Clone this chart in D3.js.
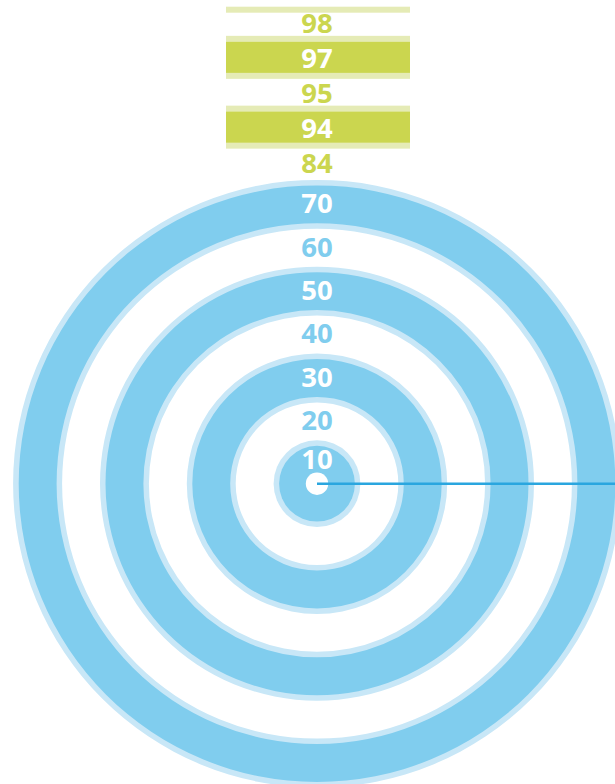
<!DOCTYPE html>
<html>
<head>
<meta charset="utf-8">
<script src="https://cdn.jsdelivr.net/npm/d3@7/dist/d3.min.js"></script>
<style>
  html, body { margin: 0; padding: 0; background: #ffffff; }
  svg { display: block; }
  text { font-family: "Open Sans", "DejaVu Sans", sans-serif; font-weight: 700; }
</style>
</head>
<body>
<svg id="chart" width="615" height="784"></svg>
<script>
// ---- data ----
const ringValues = [10, 20, 30, 40, 50, 60, 70];
const ringFilled = [true, false, true, false, true, false, true];
const barLabels  = ["98", "97", "95", "94", "84"];
const barFilled  = [false, true, false, true, false];

// ---- styles ----
const W = 615, H = 784;
const cx = 317, cy = 483.7;
const blueDark = "#80cdee", blueLight = "#c8e7f7", blueLine = "#2aa6df";
const greenDark = "#cbd64f", greenLight = "#e5ebb6";
const edge = 5.5;

const svg = d3.select("#chart");

// radial scale
const r = d3.scaleLinear().domain([0, 70]).range([0, 303.8]);
const arc = d3.arc().startAngle(0).endAngle(2 * Math.PI);

const rings = ringValues.map((v, i) => ({ v, filled: ringFilled[i] }));
const g = svg.append("g").attr("transform", `translate(${cx},${cy})`);

rings.filter(d => d.filled).sort((a, b) => b.v - a.v).forEach(d => {
  const inner = r(d.v - 10), outer = r(d.v);
  g.append("path")
    .attr("d", arc({ innerRadius: Math.max(0, inner - edge), outerRadius: outer }))
    .attr("fill", blueLight);
  g.append("path")
    .attr("d", arc({ innerRadius: inner, outerRadius: outer - edge }))
    .attr("fill", blueDark);
});

// centre dot and line
g.append("circle").attr("r", 11.2).attr("fill", "#ffffff");
g.append("line").attr("x1", 0).attr("y1", 0).attr("x2", W - cx).attr("y2", 0)
  .attr("stroke", blueLine).attr("stroke-width", 2.4);

// ring labels
const fs = 27.5;
g.selectAll("text.ring").data(rings).enter().append("text")
  .attr("class", "ring")
  .attr("x", 0)
  .attr("y", d => -(d.v === ringValues[0] ? r(d.v - 4) : r(d.v - 5)) + 1.8 + fs * 0.357)
  .attr("text-anchor", "middle")
  .attr("font-size", fs)
  .attr("fill", d => d.filled ? "#ffffff" : blueDark)
  .text(d => d.v);

// top bars
const y = d3.scaleBand().domain(barLabels).range([5, 179.5]);
const bx0 = 226, bx1 = 410;
const bars = barLabels.map((l, i) => ({ l, filled: barFilled[i] }));
const half = 21.5;

// cap strip
svg.append("rect").attr("x", bx0).attr("width", bx1 - bx0)
  .attr("y", y(barLabels[0]) + 1.7).attr("height", 6).attr("fill", greenLight);

bars.filter(d => d.filled).forEach(d => {
  const c = y(d.l) + y.bandwidth() / 2;
  svg.append("rect").attr("x", bx0).attr("width", bx1 - bx0)
    .attr("y", c - half).attr("height", half * 2).attr("fill", greenLight);
  svg.append("rect").attr("x", bx0).attr("width", bx1 - bx0)
    .attr("y", c - half + 6).attr("height", half * 2 - 12).attr("fill", greenDark);
});

svg.selectAll("text.bar").data(bars).enter().append("text")
  .attr("class", "bar")
  .attr("x", cx)
  .attr("y", d => y(d.l) + y.bandwidth() / 2 + 1 + fs * 0.357)
  .attr("text-anchor", "middle")
  .attr("font-size", fs)
  .attr("fill", d => d.filled ? "#ffffff" : greenDark)
  .text(d => d.l);
</script>
</body>
</html>
